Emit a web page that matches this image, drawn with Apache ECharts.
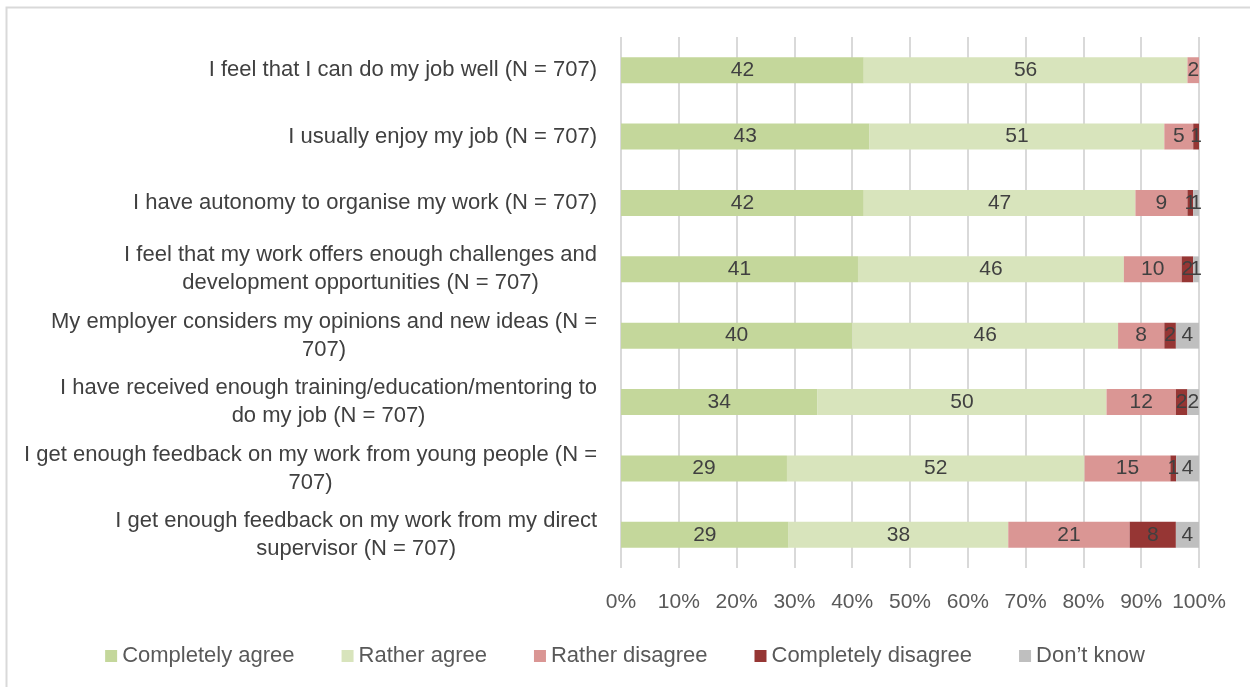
<!DOCTYPE html>
<html>
<head>
<meta charset="utf-8">
<title>Job satisfaction</title>
<script src="https://cdn.jsdelivr.net/npm/echarts@6/dist/echarts.min.js"></script>
<style>
  html, body { margin: 0; padding: 0; background: #fff; }
  #chart { width: 1250px; height: 687px; }
</style>
</head>
<body>
<div id="chart"></div>
<script>
// Statements, top to bottom
const categories = [
  'I feel that I can do my job well (N = 707)',
  'I usually enjoy my job (N = 707)',
  'I have autonomy to organise my work (N = 707)',
  'I feel that my work offers enough challenges and\ndevelopment opportunities (N = 707)',
  'My employer considers my opinions and new ideas (N =\n707)',
  'I have received enough training/education/mentoring to\ndo my job (N = 707)',
  'I get enough feedback on my work from young people (N =\n707)',
  'I get enough feedback on my work from my direct\nsupervisor (N = 707)'
];

const seriesNames = ['Completely agree', 'Rather agree', 'Rather disagree', 'Completely disagree', 'Don\u2019t know'];
const seriesColors = ['#c4d79b', '#d8e4bc', '#da9694', '#963634', '#bfbfbf'];

// Percentages per statement (same order as categories)
const completelyAgree    = [42, 43, 42, 41, 40, 34, 29, 29];
const ratherAgree        = [56, 51, 47, 46, 46, 50, 52, 38];
const ratherDisagree     = [2, 5, 9, 10, 8, 12, 15, 21];
const completelyDisagree = [0, 1, 1, 2, 2, 2, 1, 8];
const dontKnow           = [0, 0, 1, 1, 4, 2, 4, 4];

const xTicks = [0, 10, 20, 30, 40, 50, 60, 70, 80, 90, 100];

const FONT = '"Liberation Sans", Arial, sans-serif';
const TEXT = '#404040';
const AXIS_TEXT = '#595959';

const allValues = [completelyAgree, ratherAgree, ratherDisagree, completelyDisagree, dontKnow];
// 100% stacked: each row is scaled to its own total
const rowTotals = categories.map((_, i) => allValues.reduce((s, arr) => s + arr[i], 0));

// Category axis runs bottom-to-top, so reverse for top-down reading order
const rev = a => a.slice().reverse();
const catsRev = rev(categories);

const series = allValues.map((vals, k) => ({
  name: seriesNames[k],
  type: 'bar',
  stack: 'total',
  barCategoryGap: '61%',
  itemStyle: { color: seriesColors[k] },
  data: rev(vals.map((v, i) => ({
    value: v === 0 ? null : v / rowTotals[i] * 100,
    raw: v
  }))),
  label: {
    show: true,
    position: 'inside',
    color: TEXT,
    fontFamily: FONT,
    fontSize: 21,
    formatter: p => p.data && p.data.raw ? String(p.data.raw) : ''
  },
  emphasis: { disabled: true }
}));

const chart = echarts.init(document.getElementById('chart'), null, { renderer: 'canvas' });
chart.setOption({
  animation: false,
  backgroundColor: '#ffffff',
  graphic: [{
    type: 'rect',
    shape: { x: 6.5, y: 7.5, width: 1400, height: 800 },
    style: { fill: 'none', stroke: '#d9d9d9', lineWidth: 2 },
    silent: true
  }],
  grid: { left: 621, right: 51, top: 37, bottom: 119, containLabel: false },
  legend: {
    top: 640,
    left: 'center',
    itemWidth: 12,
    itemHeight: 12,
    itemGap: 47,
    icon: 'rect',
    textStyle: { color: AXIS_TEXT, fontFamily: FONT, fontSize: 22 },
    data: seriesNames
  },
  xAxis: {
    type: 'value',
    min: 0,
    max: 100,
    interval: 10,
    axisLine: { show: false },
    axisTick: { show: false },
    splitLine: { show: true, lineStyle: { color: '#d9d9d9', width: 2 } },
    axisLabel: {
      color: AXIS_TEXT,
      fontFamily: FONT,
      fontSize: 21,
      margin: 24,
      formatter: v => xTicks.includes(v) ? v + '%' : ''
    }
  },
  yAxis: {
    type: 'category',
    data: catsRev,
    axisLine: { show: false },
    axisTick: { show: false },
    axisLabel: {
      align: 'right',
      margin: 24,
      color: TEXT,
      fontFamily: FONT,
      fontSize: 22,
      lineHeight: 28,
      formatter: v => v.split('\n').map(l => '{c|' + l + '}').join('\n'),
      rich: {
        c: { align: 'center', color: TEXT, fontFamily: FONT, fontSize: 22, lineHeight: 28 }
      }
    }
  },
  series: series
});
</script>
</body>
</html>
